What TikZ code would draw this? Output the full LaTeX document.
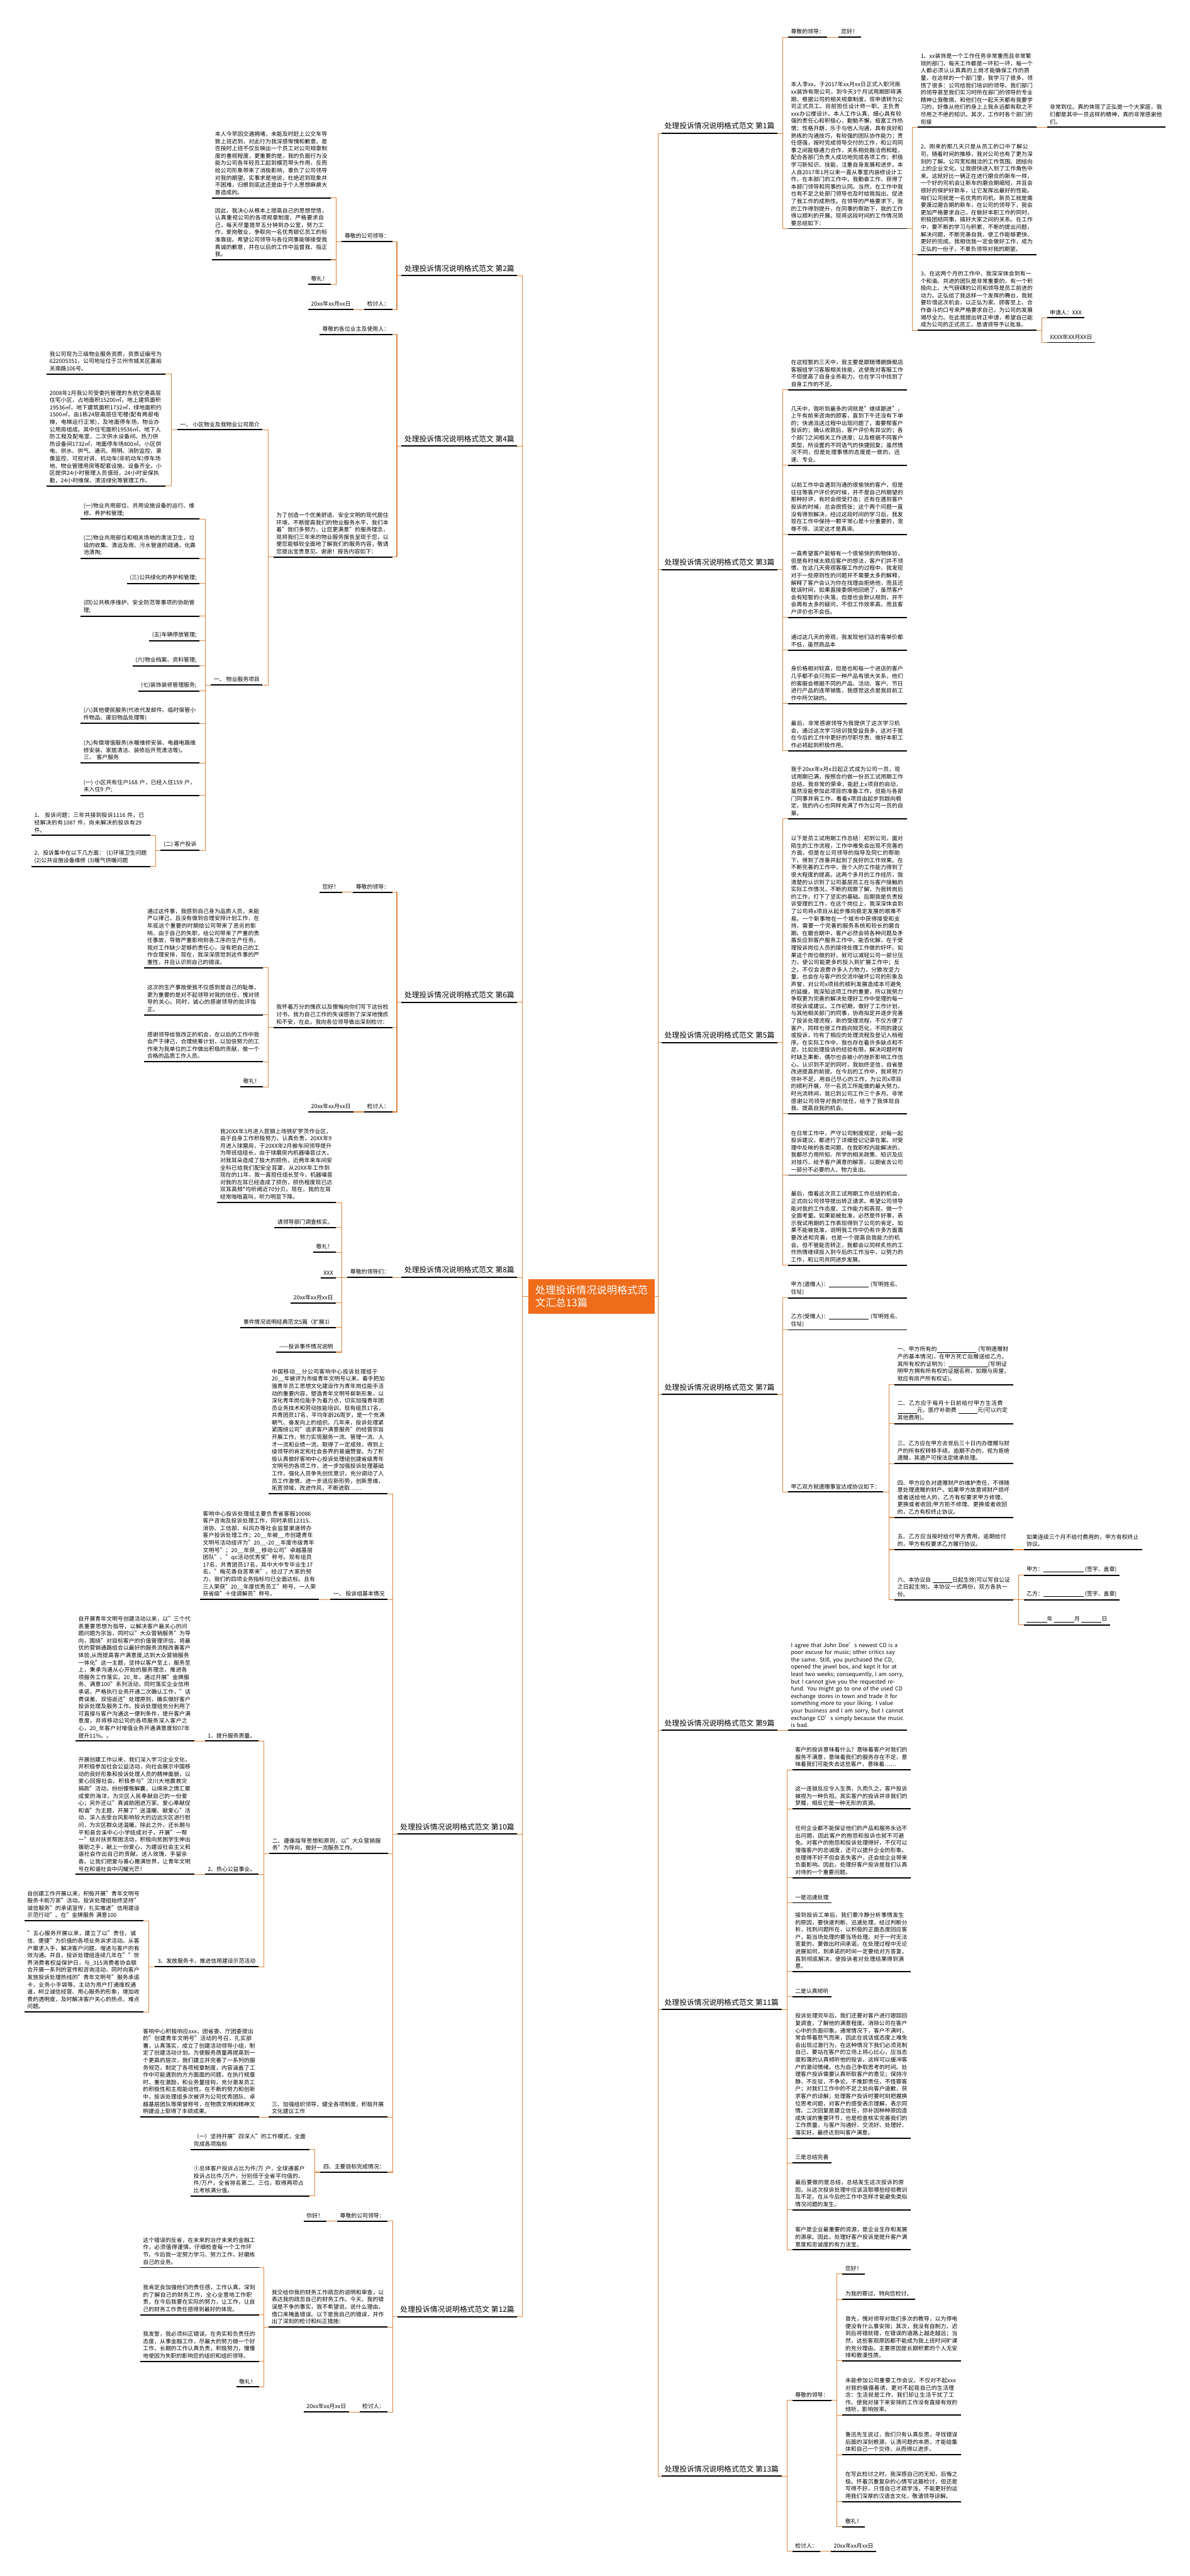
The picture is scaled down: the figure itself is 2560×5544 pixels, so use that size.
\documentclass[tikz,border=0pt]{standalone}
\usepackage{fontspec}
\setmainfont{Noto Sans CJK SC}
\XeTeXlinebreaklocale "zh"
\XeTeXlinebreakskip = 0pt plus 1pt
\usetikzlibrary{calc}
\definecolor{rootc}{HTML}{EF6C1A}
\definecolor{linkc}{HTML}{D98440}
\newcommand{\fillin}[1]{\rule[-1.5pt]{#1pt}{0.6pt}}

\begin{document}
\begin{tikzpicture}[x=1pt, y=-1pt,
        every node/.style={font=\fontsize{12}{15.7}\selectfont, inner xsep=6pt, inner ysep=6pt, align=left},
        bar/.style={append after command={(\tikzlastnode.south west) edge[draw=black, line width=2.6pt] (\tikzlastnode.south east)}},
        rgt/.style={anchor=south west, bar},
        lft/.style={anchor=south east, bar},
        box/.style={text width=243pt},
        title/.style={font=\fontsize{16}{20}\selectfont, inner ysep=8pt},
        root/.style={fill=rootc, text=white, font=\fontsize{22}{28}\selectfont, minimum width=273pt, minimum height=74pt, inner xsep=14pt},
        link/.style={draw=linkc, line width=1.4pt},
        elbow/.style={to path={-| ($(\tikztostart)!0.5!(\tikztotarget)$) |- (\tikztotarget)}}
    ]
    \fill[white] (0,0) rectangle (2560,5544);
    \useasboundingbox (0,0) rectangle (2560,5544);

    % Root
    \node[root] (root) at (1273,2790) {处理投诉情况说明格式范\\文汇总13篇};

    % Titles, right
    \node[rgt, title] (t1) at (1424,287) {处理投诉情况说明格式范文 第1篇};
    \node[rgt, title] (t3) at (1424,1226) {处理投诉情况说明格式范文 第3篇};
    \node[rgt, title] (t5) at (1424,2244) {处理投诉情况说明格式范文 第5篇};
    \node[rgt, title] (t7) at (1424,3001) {处理投诉情况说明格式范文 第7篇};
    \node[rgt, title] (t9) at (1424,3724) {处理投诉情况说明格式范文 第9篇};
    \node[rgt, title] (t11) at (1424,4325) {处理投诉情况说明格式范文 第11篇};
    \node[rgt, title] (t13) at (1424,5329) {处理投诉情况说明格式范文 第13篇};

    % Titles, left
    \node[lft, title] (t2) at (1113,593) {处理投诉情况说明格式范文 第2篇};
    \node[lft, title] (t4) at (1113,960) {处理投诉情况说明格式范文 第4篇};
    \node[lft, title] (t6) at (1113,2157) {处理投诉情况说明格式范文 第6篇};
    \node[lft, title] (t8) at (1113,2749) {处理投诉情况说明格式范文 第8篇};
    \node[lft, title] (t10) at (1113,3947) {处理投诉情况说明格式范文 第10篇};
    \node[lft, title] (t12) at (1113,4986) {处理投诉情况说明格式范文 第12篇};

    % 第1篇
    \node[rgt] (t1a) at (1696,80) {尊敬的领导：};
    \node[rgt] (t1a1) at (1804,80) {您好！};
    \node[rgt, box] (t1b) at (1696,492) {本人李xx，于2017年xx月xx日正式入职河南xx装饰有限公司，到今天3个月试用期即将满期，根据公司的相关规章制度，现申请转为公司正式员工。目前担任设计师一职，主负责xxx办公楼设计。本人工作认真、细心具有较强的责任心和积极心，勤勉不懈，极富工作热情；性格开朗，乐于与他人沟通，具有良好和熟练的沟通技巧，有较强的团队协作能力；责任感强，按时完成领导交付的工作，和公司同事之间能够通力合作，关系相处融洽而和睦，配合各部门负责人成功地完成各项工作；积极学习新知识、技能，注重自身发展和进步。本人自2017年1月以来一直从事室内装修设计工作，在本部门的工作中，我勤奋工作，获得了本部门领导和同事的认同。当然，在工作中我也有不足之处部门领导也及时给我指出，促进了我工作的成熟性。在领导的严格要求下，我的工作得到提升，在同事的帮助下，我的工作得以顺利的开展。现将这段时间的工作情况简要总结如下：};
    \node[rgt, box] (t1b1) at (1975,274) {1、xx装饰是一个工作任务非常重而且非常繁琐的部门，每天工作都是一环扣一环，每一个人都必须认认真真的上岗才能确保工作的质量，在这样的一个部门里，我学习了很多，领悟了很多：公司给我们培训的领导、我们部门的领导甚至我们实习时所在部门的领导的专业精神让我敬佩，和他们在一起天天都有我要学习的，好像从他们的身上上我永远都有取之不尽用之不绝的知识。其次，工作时各个部门的衔接};
    \node[rgt, box] (t1b1a) at (2253,274) {非常到位。真的体现了正弘是一个大家庭，我们都是其中一员这样的精神，真的非常感谢他们。};
    \node[rgt, box] (t1b2) at (1975,548) {2、刚来的那几天只是从员工的口中了解公司，随着时间的推移，我对公司也有了更为深刻的了解。公司宽松融洽的工作氛围、团结向上的企业文化，让我很快进入到了工作角色中来。这就好比一辆正在进行磨合的新车一样，一个好的司机会让新车的磨合期缩短，并且会很好的保护好新车，让它发挥出最好的性能。咱们公司就是一名优秀的司机，新员工就是需要渡过磨合期的新车，在公司的领导下，我会更加严格要求自己，在做好本职工作的同时，积极团结同事，搞好大家之间的关系。在工作中，要不断的学习与积累，不断的提出问题，解决问题，不断完善自我，使工作能够更快、更好的完成。我相信我一定会做好工作，成为正弘的一份子，不辜负领导对我的期望。};
    \node[rgt, box] (t1b3) at (1975,711) {3、在这两个月的工作中，我深深体会到有一个和谐、共进的团队是非常重要的，有一个积极向上、大气磅礴的公司和领导是员工前进的动力。正弘给了我这样一个发挥的舞台，我就要珍惜这次机会，以正弘为家、顾客至上、合作奋斗的口号来严格要求自己，为公司的发展竭尽全力。在此我提出转正申请，希望自己能成为公司的正式员工，恳请领导予以批准。};
    \node[rgt] (t1b3a) at (2253,684) {申请人：XXX};
    \node[rgt] (t1b3b) at (2253,737) {XXXX年XX月XX日};

    % 第3篇
    \node[rgt, box] (t3a) at (1696,839) {在这短暂的三天中，我主要是跟随博朗旗舰店客服组学习客服相关技能，这使我对客服工作不但提高了自身业务能力，也在学习中找到了自身工作的不足。};
    \node[rgt, box] (t3b) at (1696,1001) {几天中，我听到最多的词就是"继续跟进"，上午有前来咨询的顾客，直到下午还没有下单的；快递派送过程中出现问题了，需要帮客户投诉的；确认收款后，客户评价有异议的；各个部门之间相关工作进度；以及根据不同客户类型，所设置的不同语气的快捷回复；虽然情况不同，但是处理事情的态度是一致的，迅速、专业。};
    \node[rgt, box] (t3c) at (1696,1150) {以前工作中会遇到沟通的很愉快的客户，但是往往等客户评价的时候，并不是自己所期望的那种好评，有时会很受打击；还有在遇到客户投诉的时候，总会很慌张；这个两个问题一直没有得到解决，经过这段时间的学习后，我发现在工作中保持一颗平常心是十分重要的，宠辱不惊、淡定这才是真谛。};
    \node[rgt, box] (t3d) at (1696,1329) {一直希望客户能够有一个很愉快的购物体验，但是有时候太顺应客户的想法，客户们并不领情，在这几天旁观客服工作的过程中，我发现对于一些原则性的问题并不需要太多的解释，解释了客户会认为你在找理由拒绝他，而且还耽误时间，如果直接委婉地回绝了，虽然客户会有短暂的小失落，但是也会默认规则，并不会再有太多的疑问，不但工作效率高，而且客户评价也不会低。};
    \node[rgt, box] (t3e) at (1696,1399) {通过这几天的旁观，我发现他们店的客单价都不低，虽然商品本};
    \node[rgt, box] (t3f) at (1696,1514) {身价格相对较高，但是也和每一个进店的客户几乎都不会只购买一种产品有很大关系，他们的客服会根据不同的产品、活动、客户、节日进行产品的连带销售，我感觉这点是我目前工作中所欠缺的。};
    \node[rgt, box] (t3g) at (1696,1616) {最后，非常感谢领导为我提供了这次学习机会，通过这次学习培训我受益良多，这对于我在今后的工作中更好的尽职尽责、做好本职工作必将起到积极作用。};

    % 第5篇
    \node[rgt, box] (t5a) at (1696,1762) {我于20xx年x月x日起正式成为公司一员，现试用期已满，按照合约做一份员工试用期工作总结。我非常的荣幸，能赶上x项目的启动，虽然没能参加此项目的准备工作，但能与各部门同事并肩工作，看着x项目由起步到趋向稳定，我的内心也同样充满了作为公司一员的自豪。};
    \node[rgt, box] (t5b) at (1696,2397) {以下是员工试用期工作总结：初到公司，面对陌生的工作流程，工作中难免会出现不完善的方面，但是在公司领导的指导及同仁的帮助下，得到了改善并起到了良好的工作效果。在不断完善的工作中，我个人的工作能力得到了很大程度的提高。这两个多月的工作经历，我清楚的认识到了公司基层员工在与客户接触的实际工作情况，不断的观察了解，为我转岗后的工作，打下了坚实的基础。后期我是负责投诉受理的工作，在这个岗位上，我深深体会到了公司将x项目从起步推向稳定发展的艰难不易。一个新事物在一个城市中获得接受和支持，需要一个完善的服务系统和较长的磨合期。在磨合期中，客户必然会将各种问题及矛盾反应到客户服务工作中，能否化解，在于受理投诉岗位人员的接待处理工作做的好坏。如果这个岗位做的好，就可以减轻公司一部分压力，使公司能更多的投入到扩展工作中；反之，不仅会浪费许多人力物力，分散攻坚力量，也会在与客户的交流中破坏公司的形象及声誉，对公司x项目的顺利发展造成本可避免的延缓。我深知这项工作的重要，所以我努力争取更为完善的解决处理好工作中受理的每一项投诉或建议。工作初期，做好了工作计划，与其他相关部门的同事，协商拟定并逐步完善了投诉处理流程，新的受理流程，不仅方便了客户，同样也使工作趋向规范化，不同的建议或投诉，均有了相应的处理流程及登记入档程序。在实际工作中，我也存在着许多缺点和不足，比如处理投诉的经验有限，解决问题时有时缺乏果断，偶尔也会被小的挫折影响工作信心。认识到不足的同时，我始终坚信，自省是改进提高的前提。在今后的工作中，我将努力弥补不足，用自己尽心的工作，为公司x项目的顺利开展，尽一名员工所能做的最大努力。时光流转间，我已到公司工作三个多月。非常感谢公司领导对我的信任，给予了我体现自我、提高自我的机会。};
    \node[rgt, box] (t5c) at (1696,2529) {在日常工作中，严守公司制度规定，对每一起投诉建议，都进行了详细登记记录在案。对受理中反映的各类问题，在我职权内能解决的，我都尽力用所知、所学的相关政策、知识及应对技巧，给予客户满意的解答，以期省去公司一部分不必要的人、物力支出。};
    \node[rgt, box] (t5d) at (1696,2723) {最后，借着这次员工试用期工作总结的机会，正式向公司领导提出转正请求。希望公司领导能对我的工作态度、工作能力和表现，做一个全面考量。如果能被批准，必然是件好事，表示我试用期的工作表现得到了公司的肯定。如果不能被批准，说明我工作中仍有许多方面需要改进和完善，也是一个提高自我能力的机会。但不管能否转正，我都会以同样炙热的工作热情继续投入到今后的工作当中，以努力的工作，和公司共同进步发展。};

    % 第7篇
    \node[rgt, box] (t7a) at (1696,2793) {甲方(遗赠人)：\fillin{86} (写明姓名、住址)};
    \node[rgt, box] (t7b) at (1696,2862) {乙方(受赠人)：\fillin{86} (写明姓名、住址)};
    \node[rgt] (t7c) at (1696,3211) {甲乙双方就遗赠事宜达成协议如下：};
    \node[rgt, box] (t7c1) at (1925,2980) {一、甲方所有的\fillin{85} (写明遗赠财产的基本情况)，在甲方死亡后赠送给乙方。其所有权的证明为：\fillin{85}(写明证明甲方拥有所有权的证据名称，如赠与房屋，就应有房产所有权证)。};
    \node[rgt, box] (t7c2) at (1925,3064) {二、乙方应于每月十日前给付甲方生活费 \fillin{42}元，医疗补助费 \fillin{41}元(可以约定其他费用)。};
    \node[rgt, box] (t7c3) at (1925,3150) {三、乙方应在甲方去世后三十日内办理赠与财产的所有权转移手续。逾期不办的，视为拒绝遗赠，其遗产可按法定继承处理。};
    \node[rgt, box] (t7c4) at (1925,3266) {四、甲方应负对遗赠财产的维护责任，不得随意处理遗赠的财产。如果甲方故意将财产损坏或者送给他人的，乙方有权要求甲方修理、更换或者收回;甲方拒不修理、更换或者收回的，乙方有权终止协议。};
    \node[rgt, box] (t7c5) at (1925,3335) {五、乙方应当按时给付甲方费用。逾期给付的，甲方有权要求乙方履行协议。};
    \node[rgt, box] (t7c5a) at (2203,3335) {如果连续三个月不给付费用的，甲方有权终止协议。};
    \node[rgt, box] (t7c6) at (1925,3443) {六、本协议自 \fillin{42}日起生效(可以写自公证之日起生效)。本协议一式两份，双方各执一份。};
    \node[rgt] (t7c6a) at (2203,3390) {甲方：\fillin{87} (签字、盖章)};
    \node[rgt] (t7c6b) at (2203,3443) {乙方：\fillin{87} (签字、盖章)};
    \node[rgt] (t7c6c) at (2203,3497) {\fillin{44}年 \fillin{44}月 \fillin{44}日};

    % 第9篇
    \node[rgt, box] (t9a) at (1696,3724) {I agree that John Doe's newest CD is a poor excuse for music; other critics say the same. Still, you purchased the CD, opened the jewel box, and kept it for at least two weeks; consequently, I am sorry, but I cannot give you the requested refund. You might go to one of the used CD exchange stores in town and trade it for something more to your liking. I value your business and I am sorry, but I cannot exchange CD's simply because the music is bad.};

    % 第11篇
    \node[rgt, box] (t11a) at (1705,3809) {客户的投诉意味着什么？意味着客户对我们的服务不满意，意味着我们的服务存在不足，意味着我们可能失去这些客户，意味着……};
    \node[rgt, box] (t11b) at (1705,3893) {这一连锁反应令人生畏，久而久之，客户投诉被视为一种负担。其实客户的投诉并非我们的梦魇，相反它是一种无形的资源。};
    \node[rgt, box] (t11c) at (1705,4041) {任何企业都不能保证他们的产品和服务永远不出问题，因此客户的抱怨和投诉也就不可避免。对客户的抱怨和投诉处理得好，不仅可以增强客户的忠诚度，还可以提升企业的形象。处理得不好不但会丢失客户，还会给企业带来负面影响。因此，处理好客户投诉是我们认真对待的一个重要问题。};
    \node[rgt] (t11d) at (1705,4095) {一是迅速处理};
    \node[rgt, box] (t11e) at (1705,4243) {接到投诉工单后，我们要冷静分析事情发生的原因，要快速判断、迅速处理。经过判断分析，找到问题所在，以积极的正面态度回应客户，能当场处理的要当场处理。对于一时无法答复的，要做出时间承诺。在处理过程中无论进展如何，到承诺的时间一定要给对方答复，直到彻底解决，使投诉者对处理结果得到满意。};
    \node[rgt] (t11f) at (1705,4297) {二是认真倾听};
    \node[rgt, box] (t11g) at (1705,4602) {投诉处理完毕后，我们还要对客户进行跟踪回复调查，了解他的满意程度。消除公司在客户心中的负面印象。通常情况下，客户不满时，常会带着怒气而来，因此在说话或态度上难免会出现过激行为，在这种情况下我们必须克制自己，要站在客户的立场上将心比心，应当态度和蔼的认真倾听他的投诉，这样可以缓冲客户的激动情绪，也为自己争取思考的时间。处理客户投诉需要认真听取客户的意见；保持冷静，不反驳，不争论，不推卸责任，不怪罪客户；对我们工作中的不足之处向客户道歉，获求客户的谅解；处理客户投诉时要时刻把握换位思考问题，对客户的感受表示理解，表示同情。二次回复是建立信任，弥补因种种原因造成失误的重要环节，也是检查核实完善我们的工作质量，与客户沟通好、交流好、处理好、落实好，最终达到叫客户满意。};
    \node[rgt] (t11h) at (1705,4655) {三是总结完善};
    \node[rgt, box] (t11i) at (1705,4756) {最后要做的是总结，总结发生这次投诉的原因，从这次投诉处理中应该汲取哪些经验教训及不足，在从今后的工作中怎样才能避免类似情况问题的发生。};
    \node[rgt, box] (t11j) at (1705,4842) {客户是企业最重要的资源，是企业生存和发展的源泉。因此，处理好客户投诉是提升客户满意度和忠诚度的有力法宝。};

    % 第13篇
    \node[rgt] (t13a) at (1705,5166) {尊敬的领导：};
    \node[rgt] (t13a1) at (1813,4894) {您好！};
    \node[rgt] (t13a2) at (1813,4949) {为我的罪过，特向您检讨。};
    \node[rgt, box] (t13a3) at (1813,5081) {首先，愧对领导对我们多次的教导，以为停电便没有什么事安排；其次，我没有自制力，迟到后将错就错，在错误的道路上越走越远；当然，这些客观原因都不能成为我上班时间旷课的充分理由。主要原因是长期积累的个人无安排和散漫性质。};
    \node[rgt, box] (t13a4) at (1813,5198) {未能参加公司重要工作会议，不仅对不起xxx对我的循循善诱，更对不起我自己的生活理念：生活就是工作，我们却让生活干扰了工作。使我对接下来安排的工作没有直接有效的倾听，影响效率。};
    \node[rgt, box] (t13a5) at (1813,5283) {鲁迅先生说过，我们只有认真反思，寻找错误后面的深刻根源，认清问题的本质，才能给集体和自己一个交待，从而得以进步。};
    \node[rgt, box] (t13a6) at (1813,5384) {在写此检讨之时，我深感自己的无知，后悔之极。怀着沉重复杂的心情写这篇检讨，但还是写得不好，只怪自己才疏学浅，不能更好的运用我们深厚的汉语言文化，敬请领导谅解。};
    \node[rgt] (t13a7) at (1813,5438) {敬礼！};
    \node[rgt] (t13b) at (1705,5491) {检讨人：};
    \node[rgt] (t13b1) at (1788,5491) {20xx年xx月xx日};

    % 第2篇
    \node[lft] (t2a) at (844,520) {尊敬的公司领导：};
    \node[lft, box] (t2a1) at (712,426) {本人今早因交通拥堵，未能及时赶上公交车导致上班迟到，对此行为我深感惭愧和歉意。是否按时上班不仅反映出一个员工对公司规章制度的重视程度，更重要的是，我的负面行为没能为公司各年轻员工起到模范带头作用，反而给公司形象带来了消极影响，辜负了公司领导对我的期望。实事求是地说，杜绝迟到现象并不困难，归根到底这还是由于个人思想麻痹大意造成的。};
    \node[lft, box] (t2a2) at (712,559) {因此，我决心从根本上提高自己的思想觉悟，认真重视公司的各项规章制度，严格要求自己，每天尽量提早五分钟到办公室，努力工作，爱岗敬业，争取向一名优秀银亿员工的标准靠拢。希望公司领导与各位同事能够接受我真诚的歉意，并在以后的工作中监督我、指正我。};
    \node[lft] (t2a3) at (712,612) {敬礼！};
    \node[lft] (t2b) at (844,666) {检讨人：};
    \node[lft] (t2b1) at (761,666) {20xx年xx月xx日};

    % 第4篇
    \node[lft] (t4a) at (844,720) {尊敬的各位业主及使用人：};
    \node[lft, box] (t4b) at (844,1199) {为了创造一个优美舒适、安全文明的现代居住环境，不断提高我们的物业服务水平，我们本着"我们多努力，让您更满意"的服务理念，现将我们三年来的物业服务报告呈现于您，以便您能够较全面地了解我们的服务内容，敬请您提出宝贵意见。谢谢！报告内容如下：};
    \node[lft] (t4b1) at (565,925) {一、 小区物业及我物业公司简介};
    \node[lft, box] (t4b1a) at (356,805) {我公司现为三级物业服务资质，资质证编号为622005351，公司地址位于兰州市城关区嘉峪关南路106号。};
    \node[lft, box] (t4b1b) at (356,1046) {2008年1月我公司受委托管理的东航空港高层住宅小区，占地面积15200㎡，地上建筑面积19536㎡，地下建筑面积1732㎡，绿地面积约1500㎡，由1栋24层高层住宅楼(配有两部电梯，电梯运行正常)，及地面停车场，物业办公用房组成。其中住宅面积19536㎡，地下人防工程及配电室、二次供水设备间、热力供热设备间1732㎡，地面停车场800㎡。小区供电、供水、供气、通讯、照明、消防监控、录像监控、可视对讲、机动车(非机动车)停车场地、物业管理用房等配套设施、设备齐全。小区提供24小时管理人员值班，24小时安保执勤，24小时维保、清洁绿化等管理工作。};
    \node[lft] (t4b2) at (565,1474) {一、 物业服务项目};
    \node[lft, box] (t4b2a) at (429,1117) {(一)物业共用部位、共用设施设备的运行、维修、养护和管理;};
    \node[lft, box] (t4b2b) at (429,1202) {(二)物业共用部位和相关场地的清洁卫生，垃圾的收集、清运及雨、污水管道的疏通，化粪池清掏;};
    \node[lft] (t4b2c) at (429,1256) {(三)公共绿化的养护和管理;};
    \node[lft, box] (t4b2d) at (429,1326) {(四)公共秩序维护、安全防范等事项的协助管理;};
    \node[lft] (t4b2e) at (429,1379) {(五)车辆停放管理;};
    \node[lft] (t4b2f) at (429,1433) {(六)物业档案、资料管理;};
    \node[lft] (t4b2g) at (429,1487) {(七)装饰装修管理服务;};
    \node[lft, box] (t4b2h) at (429,1557) {(八)其他便民服务(代收代发邮件、临时保管小件物品、废旧物品处理等)};
    \node[lft, box] (t4b2i) at (429,1642) {(九)有偿增值服务(水暖维修安装、电器电路维修安装、家居清洁、装修后开荒清洁等)。\\三、 客户服务};
    \node[lft, box] (t4b2j) at (429,1712) {(一) 小区共有住户168 户，已经入住159 户，未入住9 户;};
    \node[lft] (t4b2k) at (429,1830) {(二) 客户投诉};
    \node[lft, box] (t4b2k1) at (323,1798) {1、 投诉问题：三年共接到投诉1116 件，已经解决的有1087 件，尚未解决的投诉有29 件。};
    \node[lft, box] (t4b2k2) at (323,1865) {2、投诉集中在以下几方面： (1)环境卫生问题 (2)公共设施设备维修 (3)暖气供暖问题};

    % 第6篇
    \node[lft] (t6a) at (844,1920) {尊敬的领导：};
    \node[lft] (t6a1) at (736,1920) {您好！};
    \node[lft, box] (t6b) at (844,2211) {我怀着万分的愧疚以及懊悔向你们写下这份检讨书，我为自己工作的失误感到了深深地愧疚和不安，在此，我向各位领导做出深刻检讨：};
    \node[lft, box] (t6b1) at (566,2083) {通过这件事，我感到自己身为品质人员，未能严以律己，且没有做到合理安排计划工作，在年底这个重要的时期给公司带来了恶劣的影响，由于自己的失职，给公司带来了严重的责任事故，导致严重影响到各工序的生产任务。我对工作缺少足够的责任心，没有把自己的工作合理安排，现在，我深深感觉到这件事的严重性，并且认识到自己的错误。};
    \node[lft, box] (t6b2) at (566,2184) {这次的生产事故使我不仅感到是自己的耻辱，更为重要的是对不起领导对我的信任，愧对领导的关心。同时，诚心的感谢领导的批评指正。};
    \node[lft, box] (t6b3) at (566,2285) {感谢领导给我改正的机会，在以后的工作中我会严于律己，合理统筹计划，以加倍努力的工作来为我单位的工作做出积极的贡献，做一个合格的品质工作人员。};
    \node[lft] (t6b4) at (566,2339) {敬礼！};
    \node[lft] (t6c) at (844,2393) {检讨人：};
    \node[lft] (t6c1) at (761,2393) {20xx年xx月xx日};

    % 第8篇
    \node[lft] (t8a) at (844,2749) {尊敬的领导们：};
    \node[lft, box] (t8a1) at (723,2588) {我20XX年3月进入昆钢上场铁矿罗茨作业区，由于自身工作积极努力，认真负责，20XX年9月进入球磨房，于20XX年2月被车间领导提升为带班组组长，由于球磨房内机器噪音过大，对我耳朵造成了极大的损伤，近两年来车间安全科已给我们配安全耳罩，从20XX年工作到现在的11年，我一直担任组长至今，机器噪音对我的左耳已经造成了损伤，损伤程度现已达双耳高频*均听阈近70分贝。现在，我的左耳经常嗡嗡直叫，听力明显下降。};
    \node[lft] (t8a2) at (723,2642) {请领导部门调查核实。};
    \node[lft] (t8a3) at (723,2695) {敬礼！};
    \node[lft] (t8a4) at (723,2750) {XXX};
    \node[lft] (t8a5) at (723,2804) {20xx年xx月xx日};
    \node[lft] (t8a6) at (723,2857) {事件情况说明经典范文5篇（扩展3）};
    \node[lft] (t8a7) at (723,2910) {——投诉事件情况说明};

    % 第10篇
    \node[lft, box] (t10a) at (834,3215) {中国移动\_\_分公司客响中心投诉处理组于20\_\_年被评为市级青年文明号以来，着手把加强青年员工思想文化建设作为青年岗位能手活动的重要内容，塑造青年文明号崭新形象，以深化青年岗位能手为着力点，切实加强青年团员业务技术和劳动技能培训。现有组员17名，共青团员17名，平均年龄26周岁，是一个充满朝气、奋发向上的组织。几年来，投诉处理紧紧围绕公司"追求客户满意服务"的经营宗旨开展工作，努力实现服务一流、管理一流、人才一流和业绩一流，取得了一定成效，得到上级领导的肯定和社会各界的普遍赞誉。为了积极认真做好客响中心投诉处理组创建省级青年文明号的各项工作，进一步加强投诉处理基础工作，强化人员争先创优意识，充分调动了人员工作激情，进一步适应新形势，创新思维，拓宽领域，改进作风，不断进取……};
    \node[lft] (t10b) at (834,3442) {一、 投诉组基本情况};
    \node[lft, box] (t10b1) at (686,3442) {客响中心投诉处理组主要负责省客服10086客户咨询及投诉处理工作，同时承担12315、消协、工信部、纠风办等社会监督渠道转办客户投诉处理工作；20\_\_年被\_\_市创建青年文明号活动组评为"20\_\_-20\_\_年度市级青年文明号"；20\_\_年获\_\_移动公司"卓越基层团队"、"qc活动优秀奖"称号。现有组员17名，共青团员17名，其中大中专毕业生17名。"梅花香自苦寒来"。经过了大家的努力，我们的四项业务指标均已全面达标。且有三人荣获"20\_\_年度优秀员工"称号，一人荣获省级"十佳调解员"称号。};
    \node[lft, box] (t10c) at (835,3989) {二、遵循指导思想和原则，以"大众营销服务"为导向，做好一流服务工作。};
    \node[lft] (t10c1) at (556,3747) {1、提升服务质量。};
    \node[lft, box] (t10c1a) at (418,3747) {自开展青年文明号创建活动以来，以"三个代表重要思想为指导，以解决客户最关心的问题问题为宗旨，同时以"大众营销服务"为导向，围绕"对目标客户的价值管理评估，将最优的营销通路组合以最好的服务流程改善客户体验,从而提高客户满意度,达到大众营销服务一体化"这一主题，坚持以客户至上，服务至上，秉承沟通从心开始的服务理念，推进各项服务工作落实。20\_年，通过开展"金牌服务、满意100"系列活动，同时落实企业信用承诺，严格执行业务开通二次确认工作，"话费误差、双倍返还"处理原则，确实做好客户投诉处理及服务工作。投诉处理组充分利用了可直接与客户沟通这一便利条件，提升客户满意度，并将移动公司的各项服务深入客户之心，20\_年客户对增值业务开通满意度较07年提升11\%。。};
    \node[lft] (t10c2) at (556,4034) {2、热心公益事业。};
    \node[lft, box] (t10c2a) at (418,4034) {开展创建工作以来，我们深入学习企业文化，并积极参加社会公益活动，向社会展示中国移动的良好形象和投诉处理人员的精神面貌，以爱心回报社会。积极参与"汶川大地震救灾捐款"活动，纷纷慷慨解囊，以绵帛之情汇聚成爱的海洋，为灾区人民奉献自己的一份爱心；另外还以"真诚助困进万家、爱心奉献促和谐"为主题，开展了"送温暖、献爱心"活动，深入去受台风影响较大的边远灾区进行慰问，为灾区群众送温暖。除此之外，还长期与平和县合溪中心小学结成对子，开展"一帮一"结对扶贫帮困活动，积极向贫困学生伸出援助之手，献上一份爱心，为建设社会主义和谐社会作出自己的贡献。送人玫瑰，手留余香。让我们把爱与善心撒满世界，让青年文明号在和谐社会中闪耀光芒！};
    \node[lft] (t10c3) at (556,4233) {3、发放服务卡，推进信用建设示范活动};
    \node[lft, box] (t10c3a) at (308,4134) {自创建工作开展以来，积极开展"青年文明号服务卡助万家"活动。投诉处理组始终坚持"诚信服务"的承诺宣传，扎实推进"信用建设示范行动"。在"金牌服务 满意100};
    \node[lft, box] (t10c3b) at (308,4330) {"五心服务开展以来，建立了以"责任、诚信、便捷"为价值的各项业务诉求活动。从客户需求入手，解决客户问题，增进与客户的有效沟通。并且，投诉处理组连续几年在""世界消费者权益保护日，与\_315消费者协会联合开展一系列的宣传和咨询活动，同时向客户发放投诉处理热线的"青年文明号"服务承诺卡，业务小手袋等。主动为用户打通维权通道，树立诚信经营、用心服务的形象，增加收费的透明度，及时解决客户关心的热点、难点问题。};
    \node[lft, box] (t10d) at (834,4556) {三、加强组织领导，健全各项制度，积极开展文化建议工作};
    \node[lft, box] (t10d1) at (557,4556) {客响中心积极响应xxx，团省委、厅团委提出的"创建青年文明号"活动的号召，扎实部署，认真落实，成立了创建活动领导小组，制定了创建活动计划。为使服务质量再提高到一个更高的层次，我们建立并完善了一系列的服务规范，制定了各项规章制度，内容涵盖了工作中可能遇到的方方面面的问题，在执行规章时，重在激励，和业务量挂钩，充分激发员工的积极性和主观能动性。在不断的努力和创新中，投诉处理组多次被评为公司优秀团队、卓越基层团队等荣誉称号，在物质文明和精神文明建设上取得了丰硕成果。};
    \node[lft] (t10e) at (834,4675) {四、主要目标完成情况：};
    \node[lft, box] (t10e1) at (666,4626) {（一）坚持开展"四深入"的工作模式，全面完成各项指标};
    \node[lft, box] (t10e2) at (666,4726) {①总体客户投诉占比为件/万 户，全球通客户投诉占比件/万户，分别低于全省平均值的、件/万户，全省排名第二、三位，取得两项占比考核满分值。};

    % 第12篇
    \node[lft] (t12a) at (834,4780) {尊敬的公司领导：};
    \node[lft] (t12a1) at (702,4780) {你好！};
    \node[lft, box] (t12b) at (834,5008) {我交给你我的财务工作疏忽的说明和审查，以表达我的疏忽自己的财务工作。今天，我的错误是不争的事实，我不希望说，说什么理由，借口来掩盖错误。以下是我自己的错误，并作出了深刻的检讨和纠正措施：};
    \node[lft, box] (t12b1) at (557,4880) {这个错误的反省，在未来的治疗未来的金融工作，必须值得谨慎，仔细检查每一个工作环节。今后我一定努力学习、努力工作，好磨练自己的业务。};
    \node[lft, box] (t12b2) at (557,4982) {我肯定会加强他们的责任感，工作认真，深刻的了解自己的财务工作，全心全意地工作职责，在今后我要在实际的努力，让工作，让自己的财务工作责任感得到最好的体现。};
    \node[lft, box] (t12b3) at (557,5082) {我发誓，我必须纠正错误，在务实和负责任的态度，从事金融工作，尽最大的努力做一个好工作，长期的工作认真负责，积极努力，慢慢地使因为失职的影响您的组织和组织领导。};
    \node[lft] (t12b4) at (557,5137) {敬礼！};
    \node[lft] (t12c) at (834,5191) {检讨人：};
    \node[lft] (t12c1) at (751,5191) {20xx年xx月xx日};

    % Links, root
    \draw[link] (root.east) edge[elbow] (t1.south west) edge[elbow] (t3.south west) edge[elbow] (t5.south west) edge[elbow] (t7.south west) edge[elbow] (t9.south west) edge[elbow] (t11.south west) edge[elbow] (t13.south west);
    \draw[link] (root.west) edge[elbow] (t2.south east) edge[elbow] (t4.south east) edge[elbow] (t6.south east) edge[elbow] (t8.south east) edge[elbow] (t10.south east) edge[elbow] (t12.south east);

    % Links, right
    \draw[link] (t1.south east) edge[elbow] (t1a.south west) edge[elbow] (t1b.south west);
    \draw[link] (t1a.south east) edge[elbow] (t1a1.south west);
    \draw[link] (t1b.south east) edge[elbow] (t1b1.south west) edge[elbow] (t1b2.south west) edge[elbow] (t1b3.south west);
    \draw[link] (t1b1.south east) edge[elbow] (t1b1a.south west);
    \draw[link] (t1b3.south east) edge[elbow] (t1b3a.south west) edge[elbow] (t1b3b.south west);
    \draw[link] (t3.south east) edge[elbow] (t3a.south west) edge[elbow] (t3b.south west) edge[elbow] (t3c.south west) edge[elbow] (t3d.south west) edge[elbow] (t3e.south west) edge[elbow] (t3f.south west) edge[elbow] (t3g.south west);
    \draw[link] (t5.south east) edge[elbow] (t5a.south west) edge[elbow] (t5b.south west) edge[elbow] (t5c.south west) edge[elbow] (t5d.south west);
    \draw[link] (t7.south east) edge[elbow] (t7a.south west) edge[elbow] (t7b.south west) edge[elbow] (t7c.south west);
    \draw[link] (t7c.south east) edge[elbow] (t7c1.south west) edge[elbow] (t7c2.south west) edge[elbow] (t7c3.south west) edge[elbow] (t7c4.south west) edge[elbow] (t7c5.south west) edge[elbow] (t7c6.south west);
    \draw[link] (t7c5.south east) edge[elbow] (t7c5a.south west);
    \draw[link] (t7c6.south east) edge[elbow] (t7c6a.south west) edge[elbow] (t7c6b.south west) edge[elbow] (t7c6c.south west);
    \draw[link] (t9.south east) edge[elbow] (t9a.south west);
    \draw[link] (t11.south east) edge[elbow] (t11a.south west) edge[elbow] (t11b.south west) edge[elbow] (t11c.south west) edge[elbow] (t11d.south west) edge[elbow] (t11e.south west) edge[elbow] (t11f.south west) edge[elbow] (t11g.south west) edge[elbow] (t11h.south west) edge[elbow] (t11i.south west) edge[elbow] (t11j.south west);
    \draw[link] (t13.south east) edge[elbow] (t13a.south west) edge[elbow] (t13b.south west);
    \draw[link] (t13a.south east) edge[elbow] (t13a1.south west) edge[elbow] (t13a2.south west) edge[elbow] (t13a3.south west) edge[elbow] (t13a4.south west) edge[elbow] (t13a5.south west) edge[elbow] (t13a6.south west) edge[elbow] (t13a7.south west);
    \draw[link] (t13b.south east) edge[elbow] (t13b1.south west);

    % Links, left
    \draw[link] (t2.south west) edge[elbow] (t2a.south east) edge[elbow] (t2b.south east);
    \draw[link] (t2a.south west) edge[elbow] (t2a1.south east) edge[elbow] (t2a2.south east) edge[elbow] (t2a3.south east);
    \draw[link] (t2b.south west) edge[elbow] (t2b1.south east);
    \draw[link] (t4.south west) edge[elbow] (t4a.south east) edge[elbow] (t4b.south east);
    \draw[link] (t4b.south west) edge[elbow] (t4b1.south east) edge[elbow] (t4b2.south east);
    \draw[link] (t4b1.south west) edge[elbow] (t4b1a.south east) edge[elbow] (t4b1b.south east);
    \draw[link] (t4b2.south west) edge[elbow] (t4b2a.south east) edge[elbow] (t4b2b.south east) edge[elbow] (t4b2c.south east) edge[elbow] (t4b2d.south east) edge[elbow] (t4b2e.south east) edge[elbow] (t4b2f.south east) edge[elbow] (t4b2g.south east) edge[elbow] (t4b2h.south east) edge[elbow] (t4b2i.south east) edge[elbow] (t4b2j.south east) edge[elbow] (t4b2k.south east);
    \draw[link] (t4b2k.south west) edge[elbow] (t4b2k1.south east) edge[elbow] (t4b2k2.south east);
    \draw[link] (t6.south west) edge[elbow] (t6a.south east) edge[elbow] (t6b.south east) edge[elbow] (t6c.south east);
    \draw[link] (t6a.south west) edge[elbow] (t6a1.south east);
    \draw[link] (t6b.south west) edge[elbow] (t6b1.south east) edge[elbow] (t6b2.south east) edge[elbow] (t6b3.south east) edge[elbow] (t6b4.south east);
    \draw[link] (t6c.south west) edge[elbow] (t6c1.south east);
    \draw[link] (t8.south west) edge[elbow] (t8a.south east);
    \draw[link] (t8a.south west) edge[elbow] (t8a1.south east) edge[elbow] (t8a2.south east) edge[elbow] (t8a3.south east) edge[elbow] (t8a4.south east) edge[elbow] (t8a5.south east) edge[elbow] (t8a6.south east) edge[elbow] (t8a7.south east);
    \draw[link] (t10.south west) edge[elbow] (t10a.south east) edge[elbow] (t10b.south east) edge[elbow] (t10c.south east) edge[elbow] (t10d.south east) edge[elbow] (t10e.south east);
    \draw[link] (t10b.south west) edge[elbow] (t10b1.south east);
    \draw[link] (t10c.south west) edge[elbow] (t10c1.south east) edge[elbow] (t10c2.south east) edge[elbow] (t10c3.south east);
    \draw[link] (t10c1.south west) edge[elbow] (t10c1a.south east);
    \draw[link] (t10c2.south west) edge[elbow] (t10c2a.south east);
    \draw[link] (t10c3.south west) edge[elbow] (t10c3a.south east) edge[elbow] (t10c3b.south east);
    \draw[link] (t10d.south west) edge[elbow] (t10d1.south east);
    \draw[link] (t10e.south west) edge[elbow] (t10e1.south east) edge[elbow] (t10e2.south east);
    \draw[link] (t12.south west) edge[elbow] (t12a.south east) edge[elbow] (t12b.south east) edge[elbow] (t12c.south east);
    \draw[link] (t12a.south west) edge[elbow] (t12a1.south east);
    \draw[link] (t12b.south west) edge[elbow] (t12b1.south east) edge[elbow] (t12b2.south east) edge[elbow] (t12b3.south east) edge[elbow] (t12b4.south east);
    \draw[link] (t12c.south west) edge[elbow] (t12c1.south east);

\end{tikzpicture}
\end{document}
